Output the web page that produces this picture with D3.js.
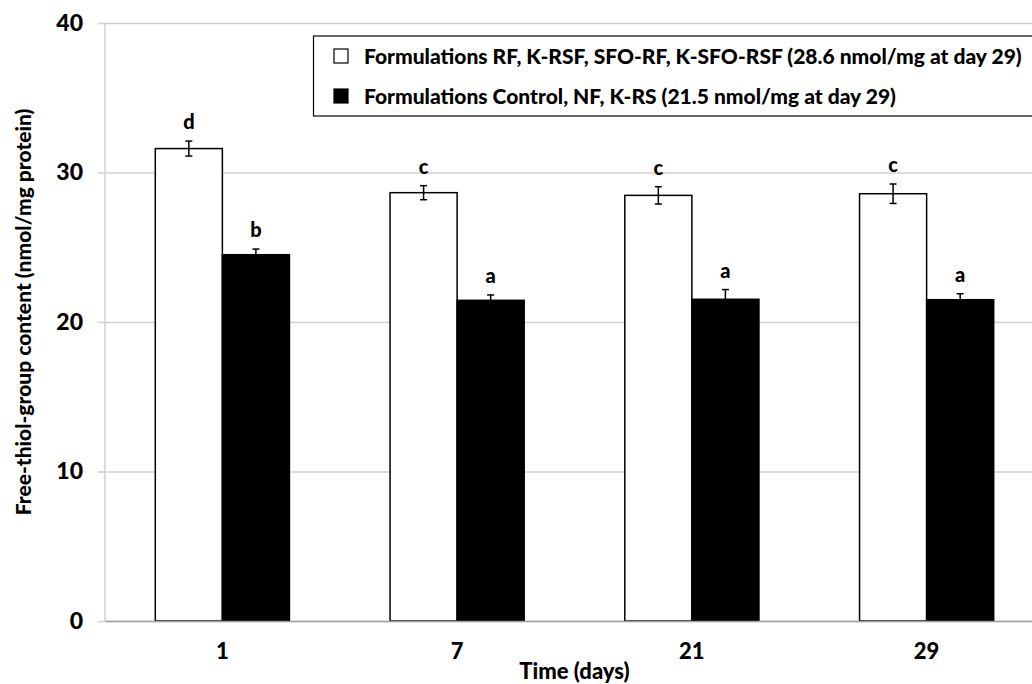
<!DOCTYPE html>
<html><head><meta charset="utf-8">
<script src="https://cdn.jsdelivr.net/npm/d3@7"></script>
<style>
html,body{margin:0;padding:0;background:#fff;}
svg{display:block;font-family:Lato,"Open Sans",sans-serif;font-weight:900;}
</style></head>
<body>
<svg id="chart" width="1032" height="684"></svg>
<script>
const days = ["1", "7", "21", "29"];
const seriesNames = [
  "Formulations RF, K-RSF, SFO-RF, K-SFO-RSF (28.6 nmol/mg at day 29)",
  "Formulations Control, NF, K-RS (21.5 nmol/mg at day 29)"
];
const whiteValues = [31.6, 28.65, 28.47, 28.58];
const whiteErrors = [0.5, 0.47, 0.58, 0.65];
const whiteLetters = ["d", "c", "c", "c"];
const blackValues = [24.5, 21.45, 21.52, 21.49];
const blackErrors = [0.38, 0.36, 0.65, 0.4];
const blackLetters = ["b", "a", "a", "a"];
const yTicks = [0, 10, 20, 30, 40];
const yTitle = "Free-thiol-group content (nmol/mg protein)";
const xTitle = "Time (days)";

const series = [
  {key: "s0", name: seriesNames[0], values: whiteValues, errors: whiteErrors, letters: whiteLetters, fill: "#ffffff"},
  {key: "s1", name: seriesNames[1], values: blackValues, errors: blackErrors, letters: blackLetters, fill: "#000000"}
];

const svg = d3.select("#chart");
const pLeft = 105, pRight = 1044, pTop = 23, pBottom = 621;
const FW = 900;

const y = d3.scaleLinear().domain([0, 40]).range([pBottom, pTop]);
const x0 = d3.scaleBand().domain(days).range([pLeft, pRight]).paddingInner(0).paddingOuter(0);
const x1 = d3.scaleBand().domain(series.map(s => s.key)).range([0, x0.bandwidth()]).paddingInner(0).paddingOuter(0.75);

// gridlines
const yAxis = d3.axisLeft(y).tickValues(yTicks).tickSize(-(pRight - pLeft)).tickPadding(14).tickSizeOuter(0);
const gy = svg.append("g").attr("transform", `translate(${pLeft},0)`).call(yAxis);
gy.select(".domain").remove();
gy.selectAll(".tick line").attr("stroke", "#d0d0d0").attr("stroke-width", 1.5).attr("x1", -7);
gy.selectAll(".tick text").attr("font-size", 23).attr("font-weight", FW).attr("fill", "#000").attr("font-family", "Lato").attr("x", -22);
svg.append("line").attr("x1", pLeft).attr("x2", pLeft).attr("y1", pTop).attr("y2", pBottom)
  .attr("stroke", "#d0d0d0").attr("stroke-width", 1.5);

// bars
const groups = svg.append("g").selectAll("g").data(series).join("g");
groups.selectAll("rect").data(s => days.map((d, i) => ({day: d, v: s.values[i], fill: s.fill, key: s.key})))
  .join("rect")
  .attr("x", d => x0(d.day) + x1(d.key))
  .attr("width", x1.bandwidth())
  .attr("y", d => y(d.v))
  .attr("height", d => y(0) - y(d.v))
  .attr("fill", d => d.fill)
  .attr("stroke", "#000").attr("stroke-width", 1.5);

// x axis line
const xAxis = d3.axisBottom(x0).tickSize(0).tickPadding(22);
const gx = svg.append("g").attr("transform", `translate(0,${pBottom})`).call(xAxis);
gx.select(".domain").attr("stroke", "#a0a0a0").attr("stroke-width", 1.5);
gx.selectAll(".tick text").attr("font-size", 22).attr("font-weight", FW).attr("fill", "#000").attr("font-family", "Lato");

// error bars and letters
series.forEach(s => {
  const g = svg.append("g");
  days.forEach((d, i) => {
    const cx = x0(d) + x1(s.key) + x1.bandwidth() / 2;
    const hi = y(s.values[i] + s.errors[i]);
    const lo = y(s.values[i] - s.errors[i]);
    const col = "#000";
    g.append("line").attr("x1", cx).attr("x2", cx).attr("y1", hi).attr("y2", lo).attr("stroke", col).attr("stroke-width", 1.5);
    g.append("line").attr("x1", cx - 3.5).attr("x2", cx + 3.5).attr("y1", hi).attr("y2", hi).attr("stroke", col).attr("stroke-width", 1.5);
    g.append("line").attr("x1", cx - 3.5).attr("x2", cx + 3.5).attr("y1", lo).attr("y2", lo).attr("stroke", col).attr("stroke-width", 1.5);
    g.append("text").attr("x", cx).attr("y", hi - 12).attr("text-anchor", "middle")
      .attr("font-size", 20).attr("fill", "#000").text(s.letters[i]);
  });
});

// axis titles
svg.append("text").attr("transform", `translate(31,${(pTop + pBottom) / 2 - 10}) rotate(-90)`)
  .attr("text-anchor", "middle").attr("font-size", 21).attr("fill", "#000").text(yTitle);
svg.append("text").attr("x", (pLeft + pRight) / 2).attr("y", 679).attr("text-anchor", "middle")
  .attr("font-size", 22).attr("fill", "#000").text(xTitle);

// legend
const lg = svg.append("g");
lg.append("rect").attr("x", 313.5).attr("y", 36).attr("width", 740).attr("height", 80)
  .attr("fill", "#fff").attr("stroke", "#000").attr("stroke-width", 1.2);
series.forEach((s, i) => {
  const cy = 56 + i * 40;
  lg.append("rect").attr("x", 334).attr("y", cy - 7).attr("width", 14).attr("height", 14)
    .attr("fill", s.fill).attr("stroke", "#000").attr("stroke-width", 1.2);
  lg.append("text").attr("x", 364).attr("y", cy + 7.5).attr("font-size", 21).attr("fill", "#000").text(s.name);
});
</script>
</body></html>
